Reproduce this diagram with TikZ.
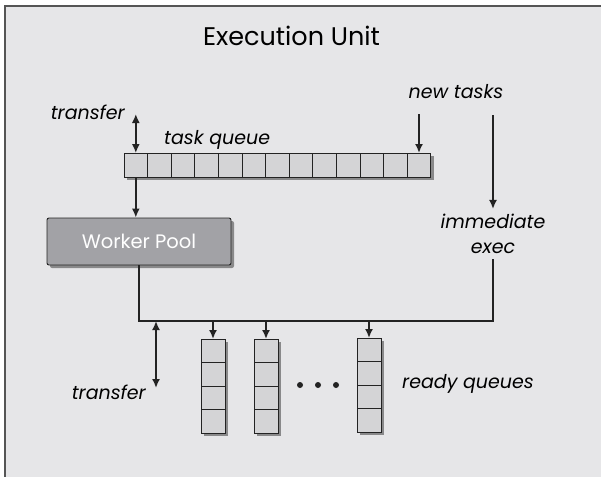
\documentclass[tikz,border=0pt]{standalone}
\usepackage{fontspec}
\setmainfont{Poppins}
\usetikzlibrary{arrows.meta,shadows,positioning}
\definecolor{unitbg}{RGB}{230,230,232}
\definecolor{cellfill}{RGB}{212,212,214}
\definecolor{poolfill}{RGB}{162,162,166}
\definecolor{inkline}{RGB}{35,35,35}
\definecolor{frameline}{RGB}{85,85,85}
\tikzset{
  shade3/.style={drop shadow={shadow xshift=3pt,shadow yshift=-3pt,opacity=0.6,fill=black!70}},
  cell/.style={draw=inkline,fill=cellfill,line width=0.9pt,minimum width=23.6pt,minimum height=24pt,inner sep=0pt,outer sep=0pt},
  cellrow/.style={fill=cellfill,minimum height=24pt,inner sep=0pt,outer sep=0pt,shade3},
  cellcol/.style={fill=cellfill,minimum width=24pt,inner sep=0pt,outer sep=0pt,shade3},
  pool/.style={draw=inkline,fill=poolfill,line width=0.9pt,rounded corners=2pt,minimum width=184pt,minimum height=47pt,
    text=white,font=\fontsize{19.5}{22}\selectfont,shade3},
  tag/.style={font=\itshape\fontsize{19}{24}\selectfont,inner sep=0pt,anchor=base},
  wire/.style={draw=inkline,line width=1.7pt},
  flow/.style={wire,-{Latex[length=9pt,width=8pt]}},
  both/.style={wire,{Latex[length=9pt,width=8pt]}-{Latex[length=9pt,width=8pt]}}
}
\begin{document}
\begin{tikzpicture}[x=1pt,y=-1pt]
\useasboundingbox (0,0) rectangle (603,477);
\fill[unitbg] (5,6) rectangle (601,477);
\draw[frameline,line width=1.5pt] (5,477) -- (5,6) -- (601,6);

\node[font=\fontsize{25.5}{30}\selectfont,inner sep=0pt,anchor=base] (title) at (291.5,45) {Execution Unit};

% task queue
\node[cellrow,minimum width=307pt] (queue) at (277.5,165) {};
\foreach \i in {1,...,13}
  \node[cell] (q\i) at ({124+23.6*(\i-0.5)},165) {};
\node[tag,anchor=base west] (qlab) at (164,144) {task queue};

\coordinate (ttop) at ([yshift=39pt]q1.north);
\draw[both] (ttop) -- (q1.north);
\node[tag,anchor=base east] (tlab) at (125,119) {transfer};

\coordinate (ntop) at ([yshift=39pt]q13.north);
\draw[flow] (ntop) -- (q13.north);
\node[tag] (nlab) at (456,98) {new tasks};

% worker pool and immediate path
\node[pool] (pool) at (139,241.5) {Worker Pool};
\draw[flow] (q1.south) -- (pool.north -| q1.south);

\node[tag,align=center,anchor=center,font=\itshape\fontsize{19}{25}\selectfont,inner sep=5pt] (imm) at (493,234) {immediate\\exec};
\coordinate (itop) at (493,115);
\draw[flow] (itop) -- (imm.north);

% distribution line
\coordinate (busL) at (pool.south |- 0,321);
\coordinate (busR) at (imm.south |- 0,321);
\draw[wire] (pool.south) -- (busL) -- (busR) -- (imm.south);

% ready queues
\foreach \c/\x/\y in {1/213/339,2/266/339,3/369/338}{
  \node[cellcol,minimum height=94pt,anchor=north] (rq\c) at (\x,\y) {};
  \foreach \k in {1,...,4}
    \node[cell,minimum width=24pt,minimum height=23.5pt,anchor=north] (r\c-\k) at (\x,{\y+23.5*(\k-1)}) {};
  \draw[flow] (r\c-1.north |- busL) -- (r\c-1.north);
}
\foreach \x in {300,318,336}
  \fill[inkline] (\x,385) circle (3pt);
\node[tag,anchor=base west] (rlab) at (402,388) {ready queues};

\coordinate (tbus) at (156,321);
\coordinate (tbot) at (156,388);
\draw[both] (tbus) -- (tbot);
\node[tag,anchor=base east] (blab) at (146,399) {transfer};
\end{tikzpicture}
\end{document}
